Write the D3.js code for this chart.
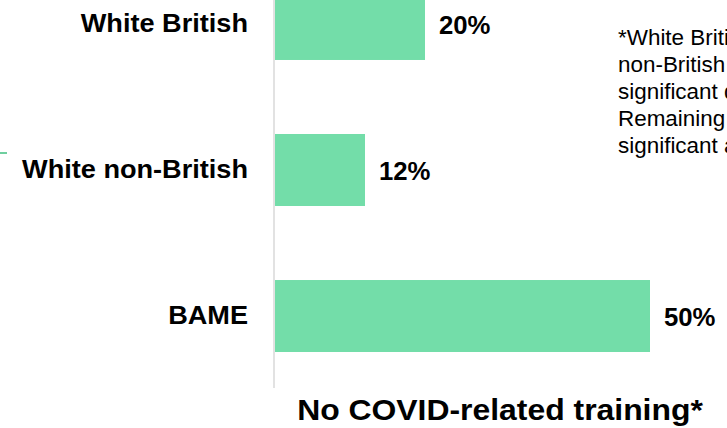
<!DOCTYPE html>
<html>
<head>
<meta charset="utf-8">
<script src="https://cdn.jsdelivr.net/npm/d3@7"></script>
<style>
  html, body { margin: 0; padding: 0; background: #fff; overflow: hidden; }
  svg { display: block; font-family: "Liberation Sans", Arial, sans-serif; }
</style>
</head>
<body>
<svg id="chart" width="727" height="428"></svg>
<script>
// Share of staff reporting no COVID-related training, by ethnic group
const categories = ["White British", "White non-British", "BAME"];
const values = [20, 12, 50];
const valueLabels = ["20%", "12%", "50%"];
const title = "No COVID-related training*";
const footnoteLines = [
  "*White British vs White",
  "non-British difference not",
  "significant difference.",
  "Remaining differences",
  "significant at p<0.05"
];

const svg = d3.select("#chart");
const barColor = "#73dda9";

const x = d3.scaleLinear().domain([0, 50]).range([275, 650]);
const y = d3.scaleBand().domain(categories).range([-12, 352])
  .paddingInner(0.507).paddingOuter(0);

// small accent rule at the left edge
svg.append("line")
  .attr("x1", 0).attr("x2", 7).attr("y1", 153).attr("y2", 153)
  .attr("stroke", "#3fbf7f").attr("stroke-width", 1.5);

// vertical category axis line
svg.append("line")
  .attr("x1", 274).attr("x2", 274).attr("y1", 0).attr("y2", 388)
  .attr("stroke", "#d9d9d9").attr("stroke-width", 1.5);

// bars
svg.append("g").selectAll("rect")
  .data(categories)
  .join("rect")
  .attr("x", x(0))
  .attr("y", d => y(d))
  .attr("width", (d, i) => x(values[i]) - x(0))
  .attr("height", y.bandwidth())
  .attr("fill", barColor);

// category labels, right aligned against the axis
svg.append("g").selectAll("g")
  .data(categories)
  .join("g")
  .attr("transform", d => `translate(248,${y(d) + y.bandwidth() / 2 + 8}) scale(1.085,1)`)
  .append("text")
  .attr("text-anchor", "end")
  .attr("font-size", 25)
  .attr("font-weight", "bold")
  .attr("fill", "#000")
  .text(d => d);

// value labels at bar ends
svg.append("g").selectAll("g")
  .data(categories)
  .join("g")
  .attr("transform", (d, i) => `translate(${x(values[i]) + 14},${y(d) + y.bandwidth() / 2 + 10}) scale(1.03,1)`)
  .append("text")
  .attr("font-size", 25)
  .attr("font-weight", "bold")
  .attr("fill", "#000")
  .text((d, i) => valueLabels[i]);

// chart title below the bars
svg.append("g")
  .attr("transform", "translate(500,420) scale(1.1,1)")
  .append("text")
  .attr("text-anchor", "middle")
  .attr("font-size", 29)
  .attr("font-weight", "bold")
  .attr("fill", "#000")
  .text(title);

// footnote on the right
const foot = svg.append("g").attr("transform", "translate(618,45) scale(1.02,1)");
foot.selectAll("text")
  .data(footnoteLines)
  .join("text")
  .attr("x", 0)
  .attr("y", (d, i) => i * 27)
  .attr("font-size", 22)
  .attr("fill", "#000")
  .text(d => d);
</script>
</body>
</html>
